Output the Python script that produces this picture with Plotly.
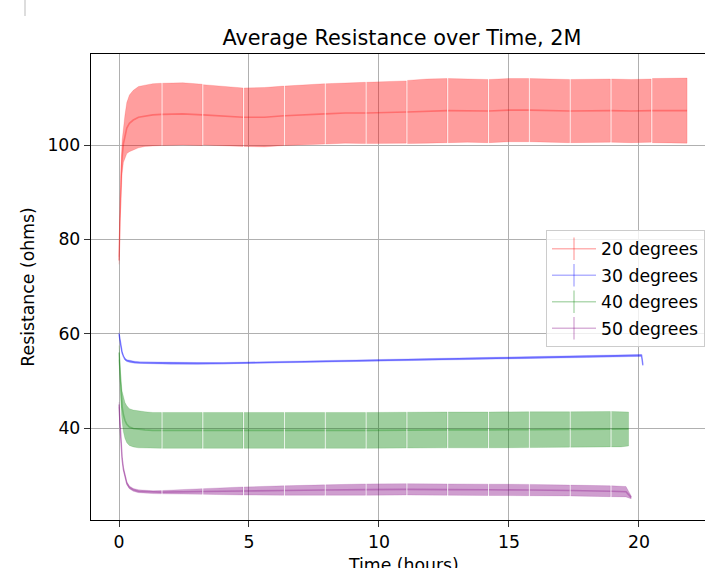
import numpy as np
import plotly.graph_objects as go

# Recording pauses (hours) that split the logged series into blocks
pause_hours = [1.65, 3.22, 4.79, 6.36, 7.93, 9.50, 11.07, 12.64, 14.21, 15.78, 17.35, 18.92, 20.49]

# ---- 20 degrees ----
t20 = [0, 0.04, 0.08, 0.12, 0.17, 0.23, 0.3, 0.4, 0.55, 0.75, 1.0, 1.3, 1.63,
       1.67, 2.45, 3.20, 3.24, 4.0, 4.77, 4.81, 5.6, 6.34, 6.38, 7.15, 7.91,
       7.95, 8.7, 9.48, 9.52, 10.3, 11.05, 11.09, 11.85, 12.62, 12.66, 13.4, 14.19,
       14.23, 15.0, 15.76, 15.80, 16.55, 17.33, 17.37, 18.1, 18.90, 18.94, 19.7, 20.47,
       20.51, 21.2, 21.85]
r20 = [75.5, 86, 93, 97.5, 100.3, 101.8, 103.6, 104.6, 105.3, 105.9, 106.2, 106.4, 106.5,
       106.5, 106.6, 106.4, 106.4, 106.1, 105.9, 105.9, 105.9, 106.2, 106.2, 106.4, 106.6,
       106.6, 106.8, 106.8, 106.8, 106.9, 107.0, 107.0, 107.2, 107.3, 107.3, 107.3, 107.2,
       107.2, 107.4, 107.4, 107.4, 107.3, 107.2, 107.2, 107.3, 107.3, 107.3, 107.2, 107.3,
       107.3, 107.3, 107.3]
e20 = [0.8, 2.0, 2.8, 3.5, 4.0, 4.6, 5.4, 6.0, 6.3, 6.5, 6.5, 6.6, 6.6,
       6.6, 6.6, 6.5, 6.4, 6.3, 6.2, 6.2, 6.3, 6.3, 6.3, 6.4, 6.4,
       6.4, 6.4, 6.5, 6.5, 6.6, 6.6, 6.7, 6.8, 6.8, 6.8, 6.7, 6.7,
       6.7, 6.7, 6.7, 6.7, 6.7, 6.7, 6.7, 6.7, 6.7, 6.7, 6.7, 6.7,
       6.8, 6.9, 6.9]

# ---- 30 degrees ----
t30 = [0, 0.04, 0.08, 0.12, 0.17, 0.23, 0.3, 0.42, 0.6, 0.8, 1.2, 2, 3, 4, 5, 6, 7,
       8, 9, 10, 11, 12, 13, 14, 15, 16, 17, 18, 19, 20, 20.1, 20.15]
r30 = [60.0, 58.3, 57.0, 56.0, 55.2, 54.6, 54.3, 54.1, 53.95, 53.85, 53.8, 53.7, 53.7,
       53.7, 53.8, 53.9, 54.0, 54.1, 54.2, 54.35, 54.45, 54.55, 54.65, 54.75, 54.85,
       54.95, 55.05, 55.15, 55.25, 55.4, 55.4, 53.4]
e30 = [0.25, 0.25, 0.25, 0.2, 0.2, 0.2, 0.2, 0.2, 0.2, 0.2, 0.2, 0.2, 0.2,
       0.2, 0.2, 0.2, 0.2, 0.2, 0.2, 0.2, 0.2, 0.2, 0.2, 0.2, 0.2,
       0.2, 0.2, 0.2, 0.2, 0.2, 0.2, 0.2]

# ---- 40 degrees ----
t40 = [0, 0.04, 0.08, 0.12, 0.17, 0.23, 0.3, 0.4, 0.55, 0.75, 1.0, 1.3, 1.63,
       1.67, 2.45, 3.20, 3.24, 4.0, 4.77, 4.81, 5.6, 6.34, 6.38, 7.15, 7.91,
       7.95, 8.7, 9.48, 9.52, 10.3, 11.05, 11.09, 11.85, 12.62, 12.66, 13.4, 14.19,
       14.23, 15.0, 15.76, 15.80, 16.55, 17.33, 17.37, 18.1, 18.90, 18.94, 19.3, 19.6]
r40 = [56, 51, 47, 44.5, 42.8, 41.6, 40.8, 40.2, 39.9, 39.7, 39.6, 39.5, 39.5,
       39.5, 39.5, 39.5, 39.5, 39.5, 39.5, 39.5, 39.5, 39.5, 39.5, 39.5, 39.5,
       39.5, 39.5, 39.5, 39.5, 39.5, 39.55, 39.55, 39.55, 39.6, 39.6, 39.6, 39.6,
       39.6, 39.65, 39.65, 39.65, 39.7, 39.7, 39.7, 39.7, 39.75, 39.75, 39.75, 39.8]
e40 = [1.5, 2.0, 2.8, 3.3, 3.6, 3.8, 3.9, 3.9, 3.9, 3.9, 3.85, 3.8, 3.8,
       3.8, 3.85, 3.8, 3.8, 3.8, 3.8, 3.8, 3.8, 3.8, 3.8, 3.8, 3.8,
       3.8, 3.8, 3.8, 3.8, 3.8, 3.8, 3.8, 3.8, 3.8, 3.8, 3.8, 3.8,
       3.8, 3.8, 3.8, 3.8, 3.75, 3.75, 3.75, 3.75, 3.75, 3.75, 3.75, 3.6]

# ---- 50 degrees ----
t50 = [0, 0.04, 0.08, 0.12, 0.17, 0.23, 0.3, 0.4, 0.55, 0.75, 1.0, 1.3, 1.63,
       1.67, 2.45, 3.20, 3.24, 4.0, 4.77, 4.81, 5.6, 6.34, 6.38, 7.15, 7.91,
       7.95, 8.7, 9.48, 9.52, 10.3, 11.05, 11.09, 11.85, 12.62, 12.66, 13.4, 14.19,
       14.23, 15.0, 15.76, 15.80, 16.55, 17.33, 17.37, 18.1, 18.90, 18.94, 19.3, 19.5, 19.7]
r50 = [45, 40, 36, 33.5, 31.3, 29.7, 28.3, 27.4, 26.9, 26.6, 26.5, 26.4, 26.4,
       26.4, 26.5, 26.55, 26.55, 26.6, 26.65, 26.65, 26.7, 26.75, 26.75, 26.8, 26.85,
       26.85, 26.9, 26.95, 26.95, 27.0, 27.0, 27.0, 27.0, 26.95, 26.95, 26.9, 26.9,
       26.9, 26.9, 26.85, 26.85, 26.8, 26.75, 26.75, 26.7, 26.6, 26.6, 26.55, 26.5, 25.3]
e50 = [0.5, 0.4, 0.3, 0.3, 0.3, 0.3, 0.3, 0.3, 0.3, 0.3, 0.3, 0.3, 0.35,
       0.35, 0.45, 0.6, 0.6, 0.7, 0.85, 0.85, 0.95, 1.0, 1.0, 1.05, 1.1,
       1.1, 1.15, 1.2, 1.2, 1.2, 1.2, 1.2, 1.2, 1.2, 1.2, 1.2, 1.2,
       1.2, 1.2, 1.2, 1.2, 1.2, 1.15, 1.15, 1.15, 1.15, 1.15, 1.15, 1.1, 0.3]

series = [
    ("20 degrees", t20, r20, e20, (255, 0, 0), pause_hours),
    ("30 degrees", t30, r30, e30, (0, 0, 255), []),
    ("40 degrees", t40, r40, e40, (0, 128, 0), pause_hours),
    ("50 degrees", t50, r50, e50, (128, 0, 128), pause_hours),
]

FONT = "DejaVu Sans"
FS = 17.3


def rgba(c, a):
    return f"rgba({c[0]},{c[1]},{c[2]},{a})"


def split_blocks(t, pauses):
    """Index ranges of readings between consecutive pauses."""
    t = np.asarray(t, float)
    blocks, start = [], 0
    for i in range(len(t) - 1):
        if any(t[i] < p < t[i + 1] for p in pauses):
            blocks.append((start, i + 1))
            start = i + 1
    blocks.append((start, len(t)))
    return blocks


fig = go.Figure()

for k, (name, t, r, e, col, pauses) in enumerate(series):
    t = np.asarray(t, float)
    r = np.asarray(r, float)
    e = np.asarray(e, float)
    bx, by, lx, ly = [], [], [], []
    for a, b in split_blocks(t, pauses):
        ts, up, lo = t[a:b], (r + e)[a:b], (r - e)[a:b]
        bx += list(ts) + list(ts[::-1]) + [None]
        by += list(up) + list(lo[::-1]) + [None]
        lx += list(ts) + [None]
        ly += list(r[a:b]) + [None]
    # spread of readings
    fig.add_trace(go.Scatter(
        x=bx, y=by, mode="lines", fill="toself",
        fillcolor=rgba(col, 0.38), line=dict(width=0.6, color=rgba(col, 0.25)),
        showlegend=False, hoverinfo="skip"))
    # average resistance
    fig.add_trace(go.Scatter(
        x=lx, y=ly, mode="lines", line=dict(width=1.6, color=rgba(col, 0.3)),
        showlegend=False, name=name))
    # legend entry in errorbar style
    fig.add_trace(go.Scatter(
        x=[None], y=[None], mode="lines+markers", name=name,
        legendgroup=name,
        line=dict(width=1.5, color=rgba(col, 0.3)),
        marker=dict(symbol="line-ns-open", size=16, color=rgba(col, 0.3),
                    line=dict(width=1.5, color=rgba(col, 0.3)))))

W, H = 705, 568
L, T, B = 91, 54, 48

fig.update_layout(
    width=W, height=H,
    margin=dict(l=L, r=0, t=T, b=B, autoexpand=False),
    paper_bgcolor="white", plot_bgcolor="white",
    font=dict(family=FONT, size=FS, color="black"),
    title=dict(text="Average Resistance over Time, 2M",
               font=dict(family=FONT, size=20.8, color="black"),
               x=402 / W, xref="container", xanchor="center",
               y=1 - 38 / H, yref="container", yanchor="middle"),
    showlegend=True,
    legend=dict(x=546 / W, xref="container", xanchor="left",
                y=1 - 230 / H, yref="container", yanchor="top",
                bgcolor="rgba(255,255,255,0.8)", bordercolor="#cccccc",
                borderwidth=1, tracegroupgap=1, itemwidth=44,
                font=dict(family=FONT, size=FS, color="black")),
    xaxis=dict(range=[-1.077, 22.54], tickmode="array", tickvals=[0, 5, 10, 15, 20],
               showgrid=True, gridcolor="#b0b0b0", gridwidth=1.2, zeroline=False,
               showline=True, linecolor="black", linewidth=1.3, mirror=True,
               ticks="outside", ticklen=6, tickwidth=1.2, tickcolor="#333333",
               tickfont=dict(family=FONT, size=FS, color="black")),
    yaxis=dict(range=[20.5, 119.3], tickmode="array", tickvals=[40, 60, 80, 100],
               showgrid=True, gridcolor="#b0b0b0", gridwidth=1.2, zeroline=False,
               showline=True, linecolor="black", linewidth=1.3, mirror=False,
               ticks="outside", ticklen=6, tickwidth=1.2, tickcolor="#333333",
               tickfont=dict(family=FONT, size=FS, color="black"),
               title=dict(text="Resistance (ohms)", standoff=8,
                          font=dict(family=FONT, size=FS, color="black"))),
    annotations=[dict(text="Time (hours)", xref="paper", yref="paper",
                      x=(403 - L) / (W - L), y=-(553 - 520) / (H - T - B),
                      xanchor="center", yanchor="top", showarrow=False,
                      font=dict(family=FONT, size=FS, color="black"))],
    shapes=[dict(type="line", xref="paper", yref="paper",
                 x0=(25 - L) / (W - L), x1=(25 - L) / (W - L),
                 y0=(520 - 0) / (H - T - B), y1=(520 - 16) / (H - T - B),
                 line=dict(color="#bbbbbb", width=1))],
)

fig.write_html("out.html")
